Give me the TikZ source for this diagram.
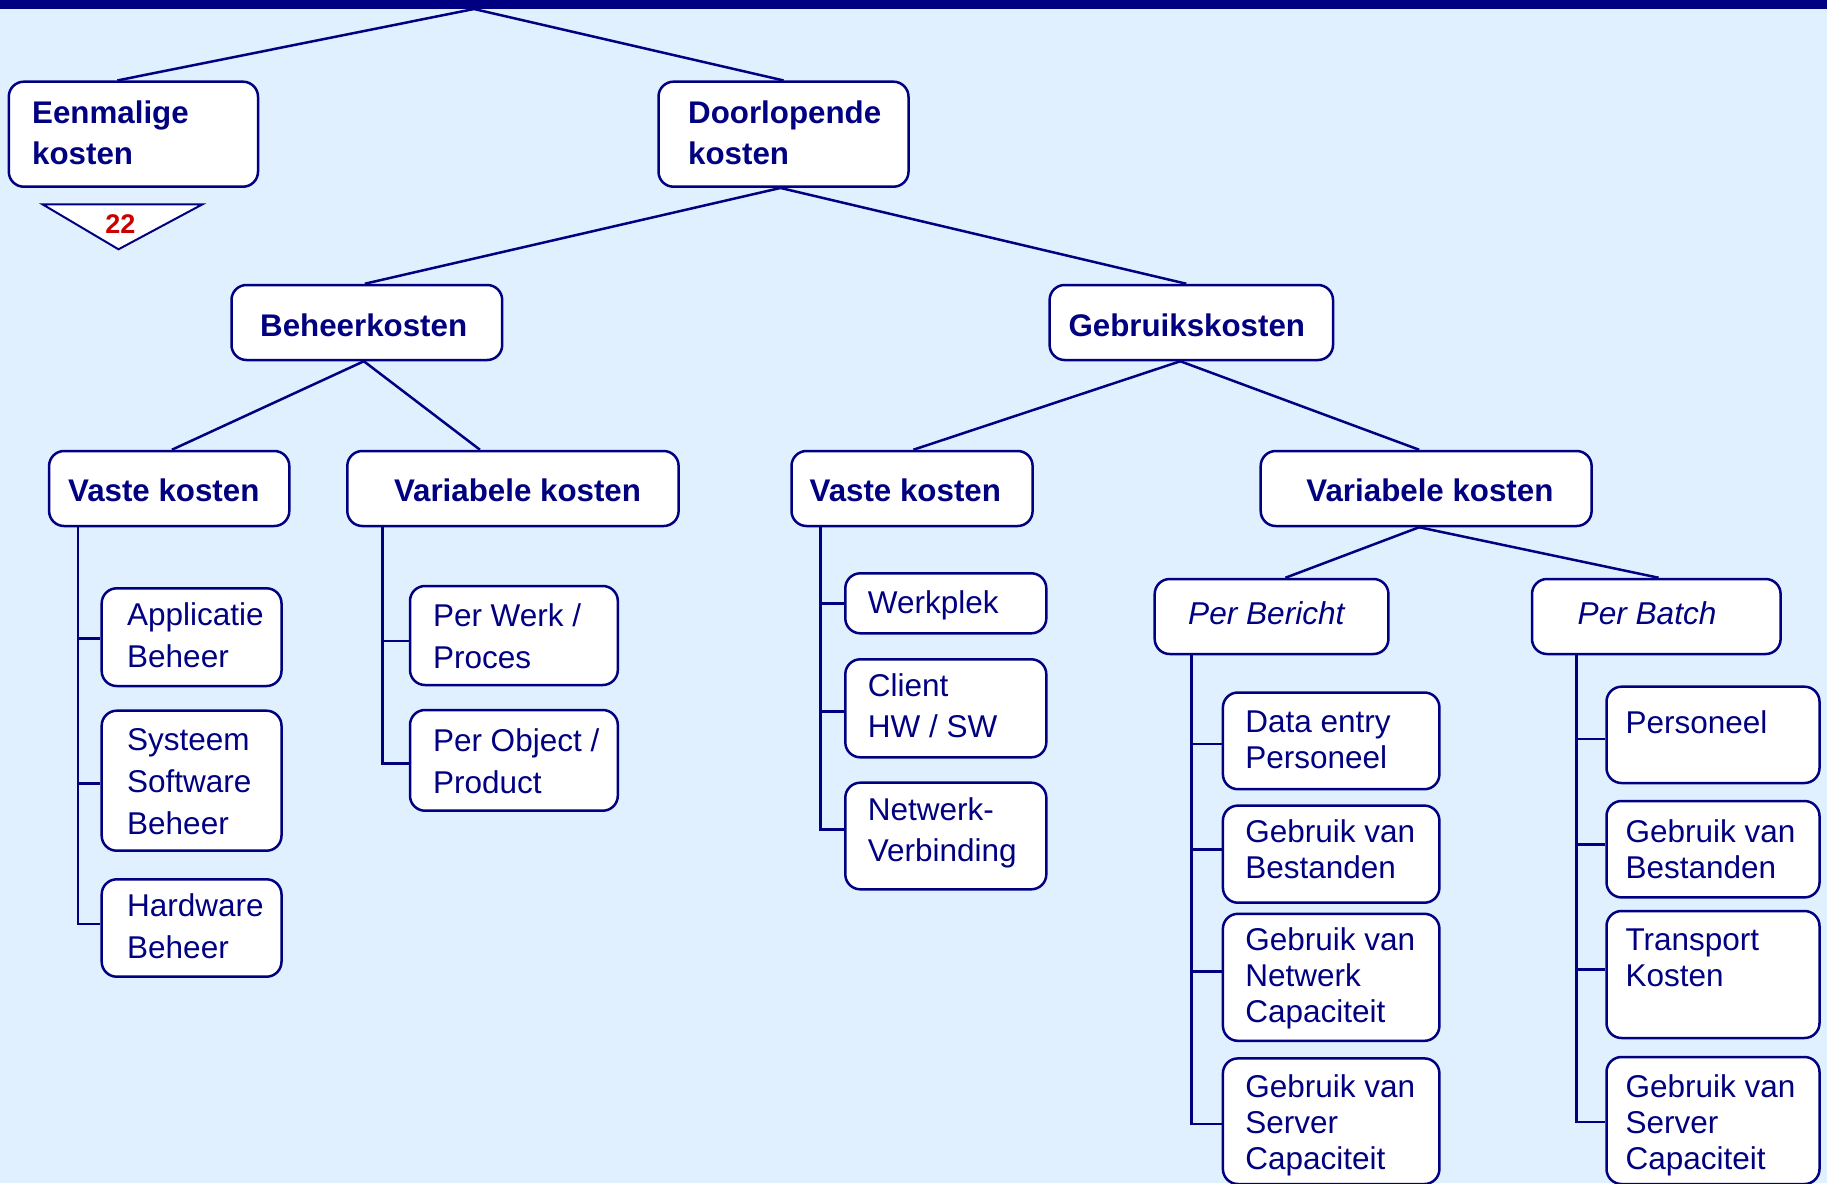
\documentclass[tikz,border=0pt]{standalone}
\usepackage{fontspec}
\setmainfont{Liberation Sans}
\usetikzlibrary{calc}
\definecolor{navy}{RGB}{0,0,128}
\definecolor{paper}{RGB}{224,240,255}
\definecolor{tagred}{RGB}{204,0,0}
\newcommand{\ml}[1]{\begin{tabular}[t]{@{}l@{}}#1\end{tabular}}
\tikzset{
  cbox/.style={rectangle, draw=navy, fill=white, line width=2.5pt, rounded corners=15pt, inner sep=0pt},
  link/.style={draw=navy, line width=2.5pt},
  headtxt/.style={text=navy, font=\fontsize{31.3}{41}\selectfont\bfseries, inner sep=0pt, anchor=base west},
  leaftxt/.style={text=navy, font=\fontsize{31.5}{42}\selectfont, inner sep=0pt, anchor=base west},
  leaftxtm/.style={text=navy, font=\fontsize{31.5}{41}\selectfont, inner sep=0pt, anchor=base west},
  leaftxtc/.style={text=navy, font=\fontsize{31.5}{36}\selectfont, inner sep=0pt, anchor=base west},
  subtxt/.style={text=navy, font=\fontsize{31.6}{36}\selectfont\itshape, inner sep=0pt, anchor=base west},
}
\begin{document}
\begin{tikzpicture}[x=1pt,y=-1pt]
\useasboundingbox (0,0) rectangle (1827,1183);
\fill[paper] (0,0) rectangle (1827,1183);
\fill[navy] (0,0) rectangle (1827,9);
\coordinate (apex) at (474,9);

% ---- top level ----
\node[cbox, minimum width=249.2pt, minimum height=105pt] (eenm) at (133.4,134.2) {};
\node[headtxt] (t-eenm) at (32,123) {\ml{Eenmalige\\kosten}};
\node[cbox, minimum width=250pt, minimum height=105pt] (door) at (783.5,134.2) {};
\node[headtxt] (t-door) at (688,123) {\ml{Doorlopende\\kosten}};

% page reference marker
\draw[navy, line width=2pt, fill=white, line join=miter] (42.5,204.3) -- (202.5,204.3) -- (118.5,249.3) -- cycle;
\node[text=tagred, font=\fontsize{27}{30}\selectfont\bfseries, inner sep=0pt, anchor=base] (tag) at (120.3,233.3) {22};

% ---- second level ----
\node[cbox, minimum width=270.7pt, minimum height=75pt] (beheer) at (366.85,322.5) {};
\node[headtxt] (t-beheer) at (260,336) {Beheerkosten};
\node[cbox, minimum width=283.4pt, minimum height=75pt] (gebr) at (1191.3,322.5) {};
\node[headtxt] (t-gebr) at (1068.3,336) {Gebruikskosten};

% ---- third level ----
\node[cbox, minimum width=240.2pt, minimum height=75pt] (vL) at (169.2,488.5) {};
\node[headtxt] (t-vL) at (67.9,501.7) {Vaste kosten};
\node[cbox, minimum width=331.3pt, minimum height=75pt] (varL) at (512.95,488.5) {};
\node[headtxt] (t-varL) at (393.8,501.7) {Variabele kosten};
\node[cbox, minimum width=241.1pt, minimum height=75pt] (vM) at (912.05,488.5) {};
\node[headtxt] (t-vM) at (809.4,501.7) {Vaste kosten};
\node[cbox, minimum width=330.9pt, minimum height=75pt] (varR) at (1426.15,488.5) {};
\node[headtxt] (t-varR) at (1306.2,501.7) {Variabele kosten};

% ---- per bericht / per batch ----
\node[cbox, minimum width=233.7pt, minimum height=75pt] (bericht) at (1271.55,616.5) {};
\node[subtxt] (t-bericht) at (1188,624) {Per Bericht};
\node[cbox, minimum width=248.6pt, minimum height=75pt] (batch) at (1656.3,616.5) {};
\node[subtxt] (t-batch) at (1577.5,624) {Per Batch};

% ---- leaves: beheer / vaste kosten ----
\node[cbox, minimum width=179.8pt, minimum height=97.7pt] (app) at (191.6,637.15) {};
\node[leaftxt] (t-app) at (127,625) {\ml{Applicatie\\Beheer}};
\node[cbox, minimum width=179.8pt, minimum height=140pt] (sys) at (191.6,780.7) {};
\node[leaftxt] (t-sys) at (127,750) {\ml{Systeem\\Software\\Beheer}};
\node[cbox, minimum width=179.8pt, minimum height=97.4pt] (hw) at (191.6,928) {};
\node[leaftxt] (t-hw) at (127,916.7) {\ml{Hardware\\Beheer}};

% ---- leaves: beheer / variabele kosten ----
\node[cbox, minimum width=207.8pt, minimum height=99pt] (werk) at (513.9,635.5) {};
\node[leaftxt] (t-werk) at (432.8,626.7) {\ml{Per Werk /\\Proces}};
\node[cbox, minimum width=207.8pt, minimum height=100.7pt] (obj) at (513.9,760.35) {};
\node[leaftxt] (t-obj) at (432.8,751.7) {\ml{Per Object /\\Product}};

% ---- leaves: gebruik / vaste kosten ----
\node[cbox, minimum width=201pt, minimum height=60pt] (wp) at (945.8,603.3) {};
\node[leaftxt] (t-wp) at (867.7,613.3) {Werkplek};
\node[cbox, minimum width=201pt, minimum height=98pt] (cli) at (945.8,708.3) {};
\node[leaftxtm] (t-cli) at (867.7,696.7) {\ml{Client\\HW / SW}};
\node[cbox, minimum width=201pt, minimum height=106.6pt] (net) at (945.8,836) {};
\node[leaftxtm] (t-net) at (867.7,820.7) {\ml{Netwerk-\\Verbinding}};

% ---- leaves: per bericht ----
\node[cbox, minimum width=216.5pt, minimum height=96.7pt] (de) at (1331.15,740.85) {};
\node[leaftxtc] (t-de) at (1245.1,732.6) {\ml{Data entry\\Personeel}};
\node[cbox, minimum width=216.5pt, minimum height=97.1pt] (bestL) at (1331.15,854.15) {};
\node[leaftxtc] (t-bestL) at (1245.1,842.5) {\ml{Gebruik van\\Bestanden}};
\node[cbox, minimum width=216.5pt, minimum height=127pt] (ncap) at (1331.15,977.3) {};
\node[leaftxtc] (t-ncap) at (1245.1,950.7) {\ml{Gebruik van\\Netwerk\\Capaciteit}};
\node[cbox, minimum width=216.5pt, minimum height=125.6pt] (scapL) at (1331.15,1121.2) {};
\node[leaftxtc] (t-scapL) at (1245.1,1097.4) {\ml{Gebruik van\\Server\\Capaciteit}};

% ---- leaves: per batch ----
\node[cbox, minimum width=213pt, minimum height=96.3pt] (pers) at (1713,734.85) {};
\node[leaftxtc] (t-pers) at (1625.3,733.4) {Personeel};
\node[cbox, minimum width=213pt, minimum height=96.4pt] (bestB) at (1713,849.2) {};
\node[leaftxtc] (t-bestB) at (1625.3,842.5) {\ml{Gebruik van\\Bestanden}};
\node[cbox, minimum width=213pt, minimum height=127pt] (trans) at (1713,974.5) {};
\node[leaftxtc] (t-trans) at (1625.3,950.7) {\ml{Transport\\Kosten}};
\node[cbox, minimum width=213pt, minimum height=127pt] (scapB) at (1713,1120.5) {};
\node[leaftxtc] (t-scapB) at (1625.3,1097.4) {\ml{Gebruik van\\Server\\Capaciteit}};

% ---- tree connectors ----
\draw[link] (apex) -- ([xshift=-16pt]eenm.north);
\draw[link] (apex) -- (door.north);
\draw[link] ([xshift=-3pt]door.south) -- ([xshift=-2pt]beheer.north);
\draw[link] ([xshift=-3pt]door.south) -- ([xshift=-5pt]gebr.north);
\draw[link] ([xshift=-3pt]beheer.south) -- ([xshift=2.7pt]vL.north);
\draw[link] ([xshift=-3pt]beheer.south) -- ([xshift=-33pt]varL.north);
\draw[link] ([xshift=-11pt]gebr.south) -- ([xshift=1.3pt]vM.north);
\draw[link] ([xshift=-11pt]gebr.south) -- ([xshift=-7pt]varR.north);
\draw[link] ([xshift=-7pt]varR.south) -- ([xshift=13.85pt]bericht.north);
\draw[link] ([xshift=-7pt]varR.south) -- ([xshift=2.3pt]batch.north);

% ---- list connectors ----
\draw[link] ([xshift=30.3pt]vL.south west) |- ([yshift=-1.1pt]app.west);
\draw[link] ([xshift=30.3pt]vL.south west) |- ([yshift=-2.6pt]sys.west);
\draw[link] ([xshift=30.3pt]vL.south west) |- ([yshift=4pt]hw.west);

\draw[link] ([xshift=36.2pt]varL.south west) |- ([yshift=-5.5pt]werk.west);
\draw[link] ([xshift=36.2pt]varL.south west) |- ([yshift=-3pt]obj.west);

\draw[link] ([xshift=30.3pt]vM.south west) |- (wp.west);
\draw[link] ([xshift=30.3pt]vM.south west) |- ([yshift=-3.4pt]cli.west);
\draw[link] ([xshift=30.3pt]vM.south west) |- ([yshift=6.7pt]net.west);

\draw[link] ([xshift=38pt]bericht.south west) |- ([yshift=-3.2pt]de.west);
\draw[link] ([xshift=38pt]bericht.south west) |- ([yshift=4.7pt]bestL.west);
\draw[link] ([xshift=38pt]bericht.south west) |- ([yshift=6pt]ncap.west);
\draw[link] ([xshift=38pt]bericht.south west) |- ([yshift=-3pt]scapL.west);

\draw[link] ([xshift=45.5pt]batch.south west) |- ([yshift=-4pt]pers.west);
\draw[link] ([xshift=45.5pt]batch.south west) |- ([yshift=4.7pt]bestB.west);
\draw[link] ([xshift=45.5pt]batch.south west) |- ([yshift=5pt]trans.west);
\draw[link] ([xshift=45.5pt]batch.south west) |- ([yshift=-1.5pt]scapB.west);
\end{tikzpicture}
\end{document}
